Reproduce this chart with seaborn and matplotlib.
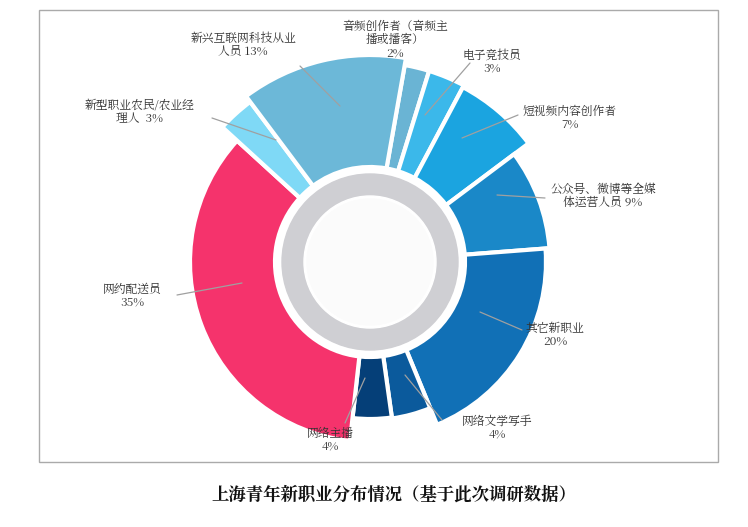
import matplotlib
matplotlib.use("Agg")
import matplotlib.pyplot as plt
from matplotlib import font_manager
import seaborn as sns
from matplotlib.patches import Circle, Rectangle

sns.set_theme(style="white")
cjk = [f.name for f in font_manager.fontManager.ttflist if "CJK" in f.name]
cjk_name = "Noto Sans CJK SC" if "Noto Sans CJK SC" in cjk else (cjk[0] if cjk else "DejaVu Sans")
plt.rcParams["font.family"] = "sans-serif"
plt.rcParams["font.sans-serif"] = [cjk_name, "DejaVu Sans"]

# slices clockwise from the top
labels = ["音频创作者（音频主\n播或播客）\n2%", "电子竞技员\n3%", "短视频内容创作者\n7%",
          "公众号、微博等全媒\n体运营人员 9%", "其它新职业\n20%", "网络文学写手\n4%",
          "网络主播\n4%", "网约配送员\n35%", "新型职业农民/农业经\n理人  3%",
          "新兴互联网科技从业\n人员 13%"]
shares = [2, 3, 7, 9, 20, 4, 4, 35, 3, 13]
radii = [200, 200, 198, 180, 176, 158, 157, 180, 200, 207]
colors = ["#6ab4d4", "#3bb8ea", "#1ba4e0", "#1a88c8", "#1170b6", "#0b5a9c",
          "#053f78", "#f5336c", "#7fd9f6", "#6cb8d8"]

W, H = 748, 527
fig = plt.figure(figsize=(W / 100, H / 100), dpi=100)
ax = fig.add_axes([0, 0, 1, 1])

cx, cy = 370, H - 262
inner = 95
wedges, _ = ax.pie(shares, startangle=80, counterclock=False, colors=colors,
                   center=(cx, cy), radius=180,
                   wedgeprops=dict(width=85, edgecolor="white", linewidth=3))
for w, r in zip(wedges, radii):
    w.set_radius(r)
    w.set_width(r - inner)
ax.set_xlim(0, W)
ax.set_ylim(0, H)
ax.set_aspect("equal")
ax.axis("off")
ax.add_patch(Circle((cx, cy), 88, color="#cfcfd3", zorder=5))
ax.add_patch(Circle((cx, cy), 66, color="white", zorder=6))
ax.add_patch(Circle((cx, cy), 63, color="#fbfbfb", zorder=7))

# label text positions and leader lines (pixel coords)
text_pos = [(395, 40), (492, 62), (570, 118), (603, 196), (555, 335),
            (497, 428), (330, 440), (132, 296), (140, 112), (243, 45)]
lines = [None, ((470, 63), (425, 115)), ((518, 115), (462, 138)),
         ((545, 198), (497, 195)), ((522, 330), (480, 312)),
         ((442, 420), (405, 375)), ((345, 423), (365, 378)),
         ((177, 295), (242, 283)), ((212, 118), (276, 140)),
         ((300, 66), (340, 106))]
for lab, (tx, ty), ln in zip(labels, text_pos, lines):
    ax.text(tx, H - ty, lab, ha="center", va="center", fontsize=8.5,
            color="#333333", linespacing=1.1, zorder=10)
    if ln:
        (x1, y1), (x2, y2) = ln
        ax.plot([x1, x2], [H - y1, H - y2], color="#a0a0a0", lw=0.9, zorder=9)

ax.add_patch(Rectangle((39, H - 462), 679, 452, fill=False, edgecolor="#aaaaaa", lw=1))
ax.text(W / 2 + 20, H - 495, "上海青年新职业分布情况（基于此次调研数据）",
        ha="center", va="center", fontsize=12.5, fontweight="bold", color="#111111")

fig.savefig("out.png", dpi=100)
